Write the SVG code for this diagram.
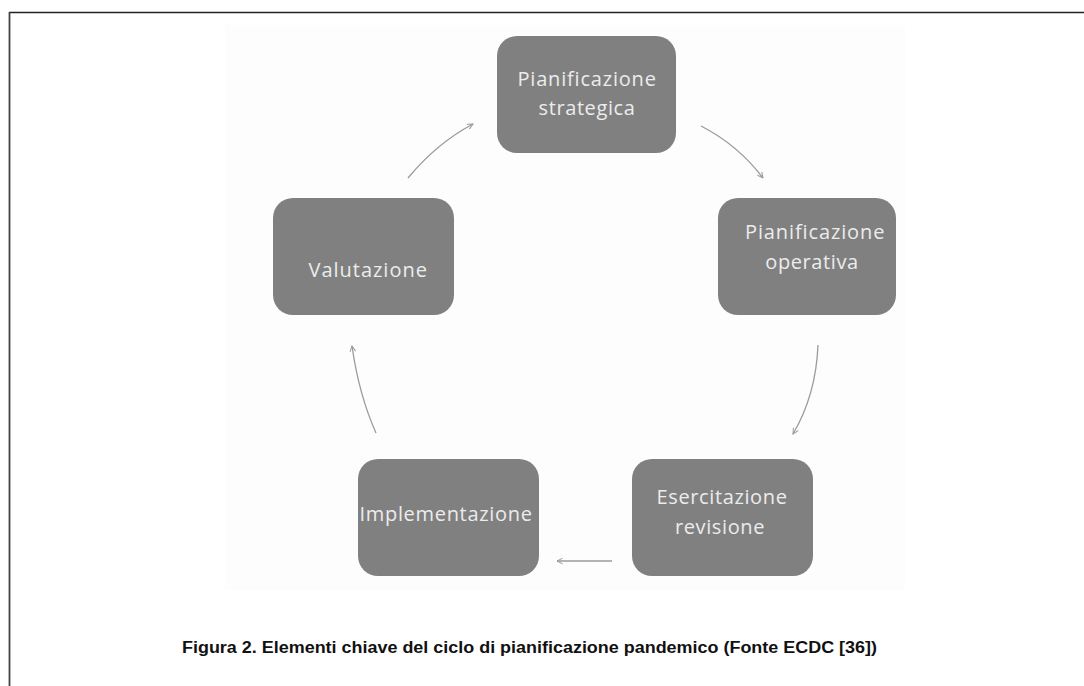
<svg xmlns="http://www.w3.org/2000/svg" width="1084" height="686" viewBox="0 0 1084 686">
<style>
.box{fill:#808080;}
.lbl{font-family:"Open Sans","Liberation Sans",sans-serif;font-size:20px;fill:#ececec;text-anchor:middle;letter-spacing:0.6px;}
.conn{fill:none;stroke:#9a9a9a;stroke-width:1.3;marker-end:url(#ah);}
.cap{font-family:"Liberation Sans",Arial,sans-serif;font-size:16px;font-weight:bold;fill:#111;}
</style>
<defs>
<marker id="ah" viewBox="0 0 10 10" refX="9" refY="5" markerWidth="7" markerHeight="7" orient="auto" markerUnits="userSpaceOnUse">
<path d="M1,1 L9,5 L1,9" fill="none" stroke="#9a9a9a" stroke-width="1.4"/>
</marker>
</defs>
<rect width="1084" height="686" fill="#ffffff"/>
<rect x="225" y="25" width="680" height="565" fill="#fdfdfd"/>
<line x1="9" y1="12.5" x2="1084" y2="12.5" stroke="#222" stroke-width="1.5"/>
<line x1="9.5" y1="12" x2="9.5" y2="686" stroke="#444" stroke-width="1.8"/>

<g id="connectors">
<path class="conn" d="M701,126 Q738,145 763,178"/>
<path class="conn" d="M818,345 Q816,395 793,434"/>
<path class="conn" d="M612,561 L557,561"/>
<path class="conn" d="M376,433 Q359,395 352,346"/>
<path class="conn" d="M408,178 Q437,143 473,124"/>
</g>

<g id="node-strategica">
<rect class="box" x="497" y="36" width="179" height="117" rx="20"/>
<text class="lbl" x="587" y="86" textLength="139">Pianificazione</text>
<text class="lbl" x="587" y="115">strategica</text>
</g>
<g id="node-operativa">
<rect class="box" x="718" y="198" width="178" height="117" rx="20"/>
<text class="lbl" x="815" y="239" textLength="140">Pianificazione</text>
<text class="lbl" x="812" y="269">operativa</text>
</g>
<g id="node-esercitazione">
<rect class="box" x="632" y="459" width="181" height="117" rx="20"/>
<text class="lbl" x="722" y="504" textLength="131">Esercitazione</text>
<text class="lbl" x="720" y="534">revisione</text>
</g>
<g id="node-implementazione">
<rect class="box" x="358" y="459" width="181" height="117" rx="20"/>
<text class="lbl" x="446" y="521" textLength="173">Implementazione</text>
</g>
<g id="node-valutazione">
<rect class="box" x="273" y="198" width="181" height="117" rx="20"/>
<text class="lbl" x="368" y="277" textLength="119">Valutazione</text>
</g>

<text class="cap" x="182" y="653" textLength="695" lengthAdjust="spacingAndGlyphs">Figura 2. Elementi chiave del ciclo di pianificazione pandemico (Fonte ECDC [36])</text>
</svg>
